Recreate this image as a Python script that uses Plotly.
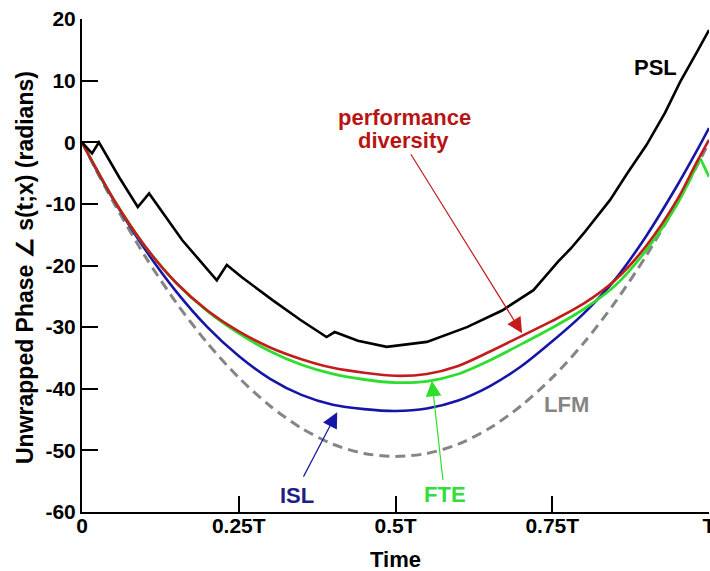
import plotly.graph_objects as go

# ---------------- data ----------------
x_smooth = [0, 0.02, 0.05, 0.10, 0.15, 0.20, 0.25, 0.30, 0.35, 0.40, 0.45, 0.50,
            0.55, 0.60, 0.65, 0.70, 0.75, 0.80, 0.85, 0.90, 0.95, 0.98, 1.0]

lfm = [0, -4.0, -9.7, -18.4, -26.0, -32.6, -38.2, -42.8, -46.4, -49.0, -50.5, -51.0,
       -50.5, -49.0, -46.4, -42.8, -38.2, -32.6, -26.0, -18.4, -9.7, -4.0, 0.0]

isl = [0, -3.9, -9.3, -17.3, -24.2, -30.0, -34.7, -38.4, -41.0, -42.6, -43.3, -43.6,
       -43.2, -41.9, -39.6, -36.4, -32.3, -27.8, -22.3, -15.2, -6.9, -1.5, 2.3]

perf_div = [0, -3.8, -9.2, -16.8, -22.8, -27.3, -30.7, -33.3, -35.2, -36.6, -37.4, -37.9,
            -37.6, -36.3, -34.0, -31.5, -29.0, -26.2, -22.4, -16.8, -9.2, -3.3, 0.4]

x_fte = [0, 0.02, 0.05, 0.10, 0.15, 0.20, 0.25, 0.30, 0.35, 0.40, 0.45, 0.50,
         0.55, 0.60, 0.65, 0.70, 0.75, 0.80, 0.85, 0.90, 0.95, 0.986, 1.0]
fte = [0, -3.8, -9.2, -16.8, -22.8, -27.4, -31.0, -33.9, -36.1, -37.6, -38.5, -39.0,
       -38.8, -37.6, -35.4, -32.8, -30.1, -27.1, -23.3, -17.5, -9.9, -2.6, -5.6]

x_psl = [0, 0.016, 0.027, 0.06, 0.089, 0.107, 0.16, 0.215, 0.231, 0.255, 0.305, 0.348,
         0.39, 0.403, 0.44, 0.486, 0.55, 0.614, 0.67, 0.70, 0.72, 0.76, 0.78, 0.80,
         0.842, 0.87, 0.90, 0.93, 0.954, 0.98, 1.0]
psl = [0, -1.8, 0.0, -5.8, -10.5, -8.3, -15.9, -22.4, -19.9, -21.9, -25.7, -28.8,
       -31.6, -30.8, -32.2, -33.2, -32.4, -30.0, -27.3, -25.3, -24.0, -19.3, -17.2, -14.8,
       -9.4, -5.0, -0.5, 4.8, 9.8, 14.5, 18.2]

x_tick_vals = [0, 0.25, 0.5, 0.75, 1.0]
x_tick_text = ["0", "0.25T", "0.5T", "0.75T", "T"]
y_tick_vals = [20, 10, 0, -10, -20, -30, -40, -50, -60]
y_tick_text = ["20", "10", "0", "-10", "-20", "-30", "-40", "-50", "-60"]

# ---------------- styling ----------------
FONT = "Liberation Sans, Arial, sans-serif"
C_BLACK = "#000000"
C_RED = "#c41c1c"
C_GREEN = "#2ede2e"
C_BLUE = "#1616a6"
C_GRAY = "#858585"

fig = go.Figure()
fig.add_trace(go.Scatter(x=x_smooth, y=lfm, mode="lines", name="LFM",
                         line=dict(color=C_GRAY, width=3, dash="10px,6px", shape="spline", smoothing=0.8)))
fig.add_trace(go.Scatter(x=x_smooth, y=isl, mode="lines", name="ISL",
                         line=dict(color=C_BLUE, width=2.6, shape="spline", smoothing=0.8)))
# FTE: smooth part, then the sharp final drop
fig.add_trace(go.Scatter(x=x_fte[:-1], y=fte[:-1], mode="lines", name="FTE",
                         line=dict(color=C_GREEN, width=2.8, shape="spline", smoothing=0.8)))
fig.add_trace(go.Scatter(x=x_fte[-2:], y=fte[-2:], mode="lines", name="FTE end",
                         line=dict(color=C_GREEN, width=2.8)))
fig.add_trace(go.Scatter(x=x_smooth, y=perf_div, mode="lines", name="performance diversity",
                         line=dict(color=C_RED, width=2.6, shape="spline", smoothing=0.8)))
fig.add_trace(go.Scatter(x=x_psl, y=psl, mode="lines", name="PSL",
                         line=dict(color=C_BLACK, width=2.6)))

def txt(s, x, y, color, size=22):
    return dict(text=s, x=x, y=y, xref="x", yref="y", showarrow=False,
                font=dict(family=FONT, size=size, color=color, weight="bold"),
                xanchor="center", yanchor="middle")

def arrow(x, y, ax, ay, color):
    return dict(text="", x=x, y=y, ax=ax, ay=ay, xref="x", yref="y", axref="x", ayref="y",
                showarrow=True, arrowhead=2, arrowsize=2.6, arrowwidth=1.2, arrowcolor=color)

annotations = [
    txt("PSL", 0.914, 12.2, C_BLACK),
    txt("performance", 0.5136, 4.0, "#b81414"),
    txt("diversity", 0.512, 0.3, "#b81414"),
    txt("LFM", 0.7735, -42.6, C_GRAY),
    txt("ISL", 0.343, -57.4, "#1e1e86"),
    txt("FTE", 0.579, -57.1, "#33dd3a"),
    arrow(0.702, -31.0, 0.523, -1.7, C_RED),
    arrow(0.407, -43.8, 0.352, -54.5, C_BLUE),
    arrow(0.558, -38.7, 0.576, -55.1, C_GREEN),
    dict(text="Time", x=0.5, y=(512 - 559) / 493, xref="paper", yref="paper", showarrow=False,
         font=dict(family=FONT, size=22, color="black", weight="bold"),
         xanchor="center", yanchor="middle"),
    dict(text="Unwrapped Phase \u2220 s(t;x) (radians)", x=(25 - 82) / 627, y=(512 - 268) / 493,
         xref="paper", yref="paper", showarrow=False, textangle=-90,
         font=dict(family=FONT, size=23, color="black", weight="bold"),
         xanchor="center", yanchor="middle"),
]

axis_common = dict(showgrid=False, zeroline=False, showline=True, linecolor="black", linewidth=2,
                   ticks="inside", ticklen=16, tickwidth=2, tickcolor="black", mirror=False,
                   ticklabeloverflow="allow", automargin=False,
                   tickfont=dict(family=FONT, size=21, color="black", weight="bold"))

fig.update_layout(
    width=710, height=571,
    margin=dict(l=82, r=1, t=19, b=59, autoexpand=False),
    paper_bgcolor="white", plot_bgcolor="white",
    showlegend=False,
    annotations=annotations,
    xaxis=dict(range=[0, 1], tickvals=x_tick_vals, ticktext=x_tick_text,
               ticklabelstandoff=-6, **axis_common),
    yaxis=dict(range=[-60, 20], tickvals=y_tick_vals, ticktext=y_tick_text, **axis_common),
)

fig.write_html("out.html")
